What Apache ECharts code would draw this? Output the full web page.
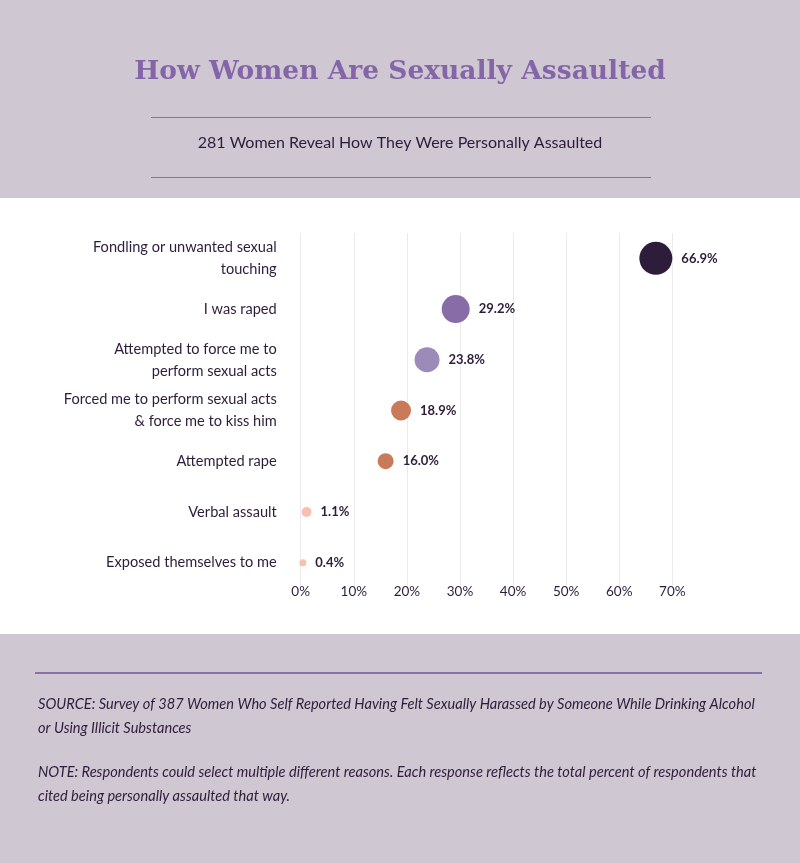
<!DOCTYPE html>
<html>
<head>
<meta charset="utf-8">
<script src="https://cdn.jsdelivr.net/npm/echarts@6/dist/echarts.min.js"></script>
<style>
html,body{margin:0;padding:0;background:#fff;}
#main{width:800px;height:863px;}
</style>
</head>
<body>
<div id="main"></div>
<script>
const titleText = 'How Women Are Sexually Assaulted';
const subtitleText = '281 Women Reveal How They Were Personally Assaulted';
const categories = [
  'Fondling or unwanted sexual\ntouching',
  'I was raped',
  'Attempted to force me to\nperform sexual acts',
  'Forced me to perform sexual acts\n& force me to kiss him',
  'Attempted rape',
  'Verbal assault',
  'Exposed themselves to me'
];
const values = [66.9, 29.2, 23.8, 18.9, 16.0, 1.1, 0.4];
const tickLabels = ['0%', '10%', '20%', '30%', '40%', '50%', '60%', '70%'];
const sourceLines = [
  'SOURCE: Survey of 387 Women Who Self Reported Having Felt Sexually Harassed by Someone While Drinking Alcohol',
  'or Using Illicit Substances'
];
const noteLines = [
  'NOTE: Respondents could select multiple different reasons. Each response reflects the total percent of respondents that',
  'cited being personally assaulted that way.'
];

// styles
const dotColors = ['#2e1c3b', '#876ca8', '#9c8ab8', '#c97a5a', '#c97a5a', '#f8c0ad', '#f8c0ad'];
const dotSizes = [33, 28, 25, 20, 16, 10, 7];

const chart = echarts.init(document.getElementById('main'), null, {renderer: 'canvas'});
const footerFont = 'Lato, sans-serif';
const option = {
  backgroundColor: '#ffffff',
  animation: false,
  graphic: [
    {type: 'rect', left: 0, top: 0, shape: {width: 800, height: 198}, style: {fill: '#cfc7d1'}, z: -10},
    {type: 'rect', left: 0, top: 634, shape: {width: 800, height: 229}, style: {fill: '#cfc7d1'}, z: -10},
    {type: 'text', left: 'center', top: 59, style: {text: titleText, fill: '#8466a8', font: 'bold 26.5px "DejaVu Serif", serif'}},
    {type: 'line', shape: {x1: 151, y1: 117.5, x2: 651, y2: 117.5}, style: {stroke: '#8a70aa', lineWidth: 1}},
    {type: 'text', left: 'center', top: 135, style: {text: subtitleText, fill: '#2e1c3b', font: '16px Lato, sans-serif'}},
    {type: 'line', shape: {x1: 151, y1: 177.5, x2: 651, y2: 177.5}, style: {stroke: '#8a70aa', lineWidth: 1}},
    {type: 'line', shape: {x1: 35, y1: 673, x2: 762, y2: 673}, style: {stroke: '#8a70aa', lineWidth: 2}},
    {type: 'text', left: 38, top: 692, style: {text: sourceLines.join('\n'), fill: '#2e1c3b', font: 'italic 14.6px ' + footerFont, lineHeight: 24}},
    {type: 'text', left: 38, top: 760, style: {text: noteLines.join('\n'), fill: '#2e1c3b', font: 'italic 14.6px ' + footerFont, lineHeight: 24}}
  ],
  grid: {left: 300.7, top: 233, width: 371.6, height: 355, containLabel: false},
  xAxis: {
    type: 'value', min: 0, max: 70, interval: 10,
    axisLine: {show: false}, axisTick: {show: false},
    splitLine: {show: true, lineStyle: {color: '#ebebeb', width: 1}},
    axisLabel: {
      margin: -3, color: '#2e1c3b', fontFamily: 'Lato, sans-serif', fontSize: 13.5,
      formatter: function (v) { return tickLabels[Math.round(v / 10)]; }
    }
  },
  yAxis: {
    type: 'category', data: categories, inverse: true,
    axisLine: {show: false}, axisTick: {show: false}, splitLine: {show: false},
    axisLabel: {margin: 24, color: '#2e1c3b', fontFamily: 'Lato, sans-serif', fontSize: 14.6, lineHeight: 22, align: 'right'}
  },
  series: [{
    type: 'scatter',
    data: values.map(function (v, i) {
      return {value: [v, i], symbolSize: dotSizes[i], itemStyle: {color: dotColors[i], opacity: 1}};
    }),
    label: {
      show: true, position: 'right', distance: 9,
      color: '#2e1c3b', fontFamily: 'Lato, sans-serif', fontSize: 13, fontWeight: 'bold',
      formatter: function (p) { return p.value[0].toFixed(1) + '%'; }
    }
  }]
};
chart.setOption(option);
</script>
</body>
</html>
